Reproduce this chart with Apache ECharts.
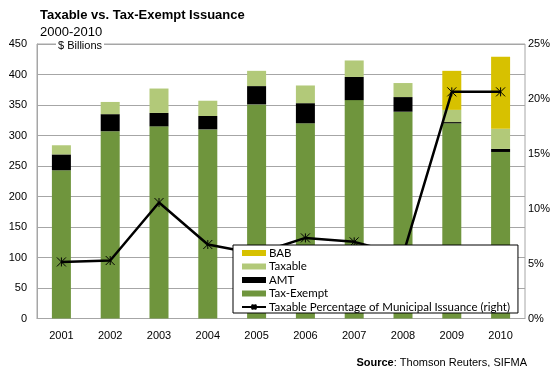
<!DOCTYPE html>
<html>
<head>
<meta charset="utf-8">
<script src="https://cdn.jsdelivr.net/npm/echarts@6/dist/echarts.min.js"></script>
<style>
  html, body { margin: 0; padding: 0; background: #fff; }
  #chart { width: 556px; height: 367px; }
</style>
</head>
<body>
<div id="chart"></div>
<script>
// Municipal issuance by type, $ billions
const years = ['2001', '2002', '2003', '2004', '2005', '2006', '2007', '2008', '2009', '2010'];
const taxExempt = [243, 307, 315, 310, 351, 320, 358, 339, 320, 273];
const amt       = [26, 28, 22, 22, 30, 33, 38, 24, 2, 5];
const taxable   = [15, 20, 40, 25, 25, 29, 27, 23, 20, 33];
const bab       = [0, 0, 0, 0, 0, 0, 0, 0, 64, 118];
// Taxable share of all municipal issuance, right axis
const taxablePct = [0.0515, 0.0528, 0.1056, 0.0674, 0.059, 0.0734, 0.0698, 0.058, 0.2064, 0.2064];

const leftTicks = { min: 0, max: 450, interval: 50 };
const rightTicks = { min: 0, max: 0.25, interval: 0.05 };

const axisFont = 'Liberation Sans, Arial, sans-serif';
const legendFont = 'Lato, Carlito, sans-serif';
const gridGray = '#a6a6a6';

const chart = echarts.init(document.getElementById('chart'), null, { renderer: 'canvas' });

const asterisk = 'path://M0,0L10,10M10,0L0,10M5,0L5,10';

const barBase = { type: 'bar', stack: 'issuance', barWidth: 19, yAxisIndex: 0 };

chart.setOption({
  animation: false,
  backgroundColor: '#fff',
  textStyle: { fontFamily: axisFont },
  title: {
    text: 'Taxable vs. Tax-Exempt Issuance',
    subtext: '2000-2010',
    left: 40,
    top: 9,
    itemGap: 4,
    padding: 0,
    textStyle: { fontSize: 13, fontWeight: 'bold', color: '#000', fontFamily: axisFont },
    subtextStyle: { fontSize: 13, color: '#000', fontFamily: axisFont }
  },
  grid: {
    left: 37, right: 31, top: 44, bottom: 48.5,
    show: true, borderColor: gridGray, borderWidth: 1
  },
  legend: {
    orient: 'vertical',
    left: 233, top: 245,
    padding: [2, 8, 0, 8],
    backgroundColor: '#fff',
    borderColor: '#000', borderWidth: 1,
    borderRadius: 0,
    itemWidth: 24, itemHeight: 6, itemGap: 1.5,
    textStyle: { fontFamily: legendFont, fontSize: 11.5, color: '#000', lineHeight: 12, padding: [0, 0, 0, -2] },
    data: [
      { name: 'BAB', icon: 'rect' },
      { name: 'Taxable', icon: 'rect' },
      { name: 'AMT', icon: 'rect' },
      { name: 'Tax-Exempt', icon: 'rect' },
      { name: 'Taxable Percentage of Municipal Issuance (right)' }
    ]
  },
  xAxis: {
    type: 'category',
    data: years,
    axisLine: { lineStyle: { color: gridGray } },
    axisTick: { show: false },
    axisLabel: { fontSize: 11, color: '#000', margin: 12, fontFamily: axisFont }
  },
  yAxis: [
    {
      type: 'value',
      min: leftTicks.min, max: leftTicks.max, interval: leftTicks.interval,
      axisLine: { show: true, lineStyle: { color: gridGray } },
      axisTick: { show: false },
      splitLine: { lineStyle: { color: gridGray } },
      axisLabel: { fontSize: 11, color: '#000', margin: 10, fontFamily: axisFont }
    },
    {
      type: 'value',
      position: 'right',
      min: rightTicks.min, max: rightTicks.max, interval: rightTicks.interval,
      axisLine: { show: false },
      axisTick: { show: false },
      splitLine: { show: false },
      axisLabel: {
        fontSize: 11, color: '#000', margin: 3, fontFamily: axisFont,
        formatter: v => Math.round(v * 100) + '%'
      }
    }
  ],
  graphic: [
    {
      type: 'text',
      left: 56, top: 40,
      z: 100,
      style: {
        text: '$ Billions',
        font: '11px ' + axisFont,
        fill: '#000',
        backgroundColor: '#fff',
        padding: [0, 2, 0, 2]
      }
    },
    {
      type: 'text',
      right: 29, top: 357,
      style: {
        text: '{b|Source}: Thomson Reuters, SIFMA',
        rich: {
          b: { fontWeight: 'bold', fontSize: 11, fontFamily: axisFont, fill: '#000' }
        },
        font: '11px ' + axisFont,
        fill: '#000'
      }
    }
  ],
  series: [
    Object.assign({}, barBase, { name: 'Tax-Exempt', data: taxExempt, itemStyle: { color: '#6f953d' } }),
    Object.assign({}, barBase, { name: 'AMT', data: amt, itemStyle: { color: '#000000' } }),
    Object.assign({}, barBase, { name: 'Taxable', data: taxable, itemStyle: { color: '#b2c979' } }),
    Object.assign({}, barBase, { name: 'BAB', data: bab, itemStyle: { color: '#d7c100' } }),
    {
      type: 'line',
      name: 'Taxable Percentage of Municipal Issuance (right)',
      yAxisIndex: 1,
      data: taxablePct,
      z: 3,
      symbol: asterisk,
      symbolSize: 9,
      showAllSymbol: true,
      lineStyle: { color: '#000', width: 2.5 },
      itemStyle: { color: '#000', borderColor: '#000', borderWidth: 1 }
    }
  ]
});
</script>
</body>
</html>
